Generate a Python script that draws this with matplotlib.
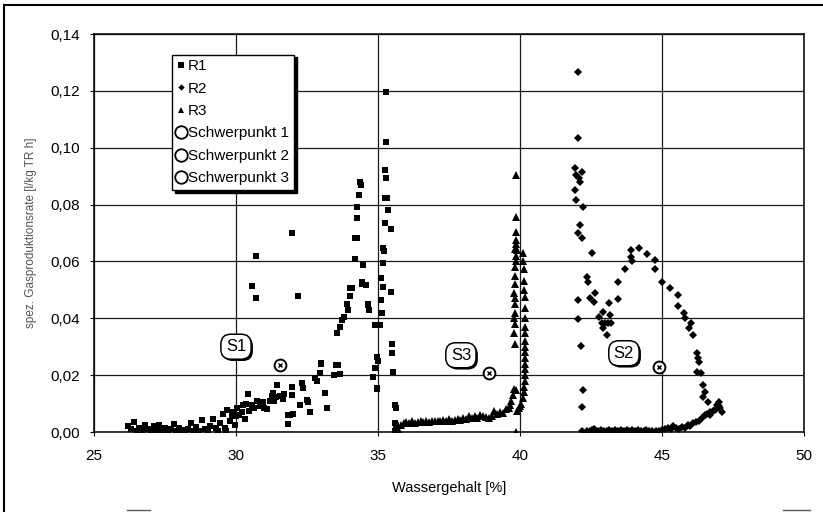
import matplotlib
matplotlib.use("Agg")
import matplotlib.pyplot as plt
from matplotlib.lines import Line2D
from matplotlib.ticker import FuncFormatter
import matplotlib.patheffects as pe

plt.rcParams['font.family'] = ['Liberation Sans', 'DejaVu Sans']

# ---------------- data ----------------
r1_x = [26.2, 26.3, 26.4, 26.5, 26.6, 26.7, 26.8, 26.9, 27.0, 27.1, 27.2, 27.3, 27.4, 27.5,
        27.6, 27.7, 27.8, 27.9, 28.0, 28.1, 28.2, 28.3, 28.4, 28.5, 28.6, 28.7, 28.8, 28.9,
        29.0, 29.1, 29.2, 29.3, 29.35, 29.45, 29.55, 29.6, 29.65, 29.7, 29.8, 29.85, 29.9,
        29.95, 30.0, 30.05, 30.1, 30.2, 30.25, 30.3, 30.35, 30.42, 30.45, 30.55, 30.65,
        30.75, 30.85, 30.95, 31.0, 31.1, 31.2, 31.25, 31.31, 31.35, 31.4,
        30.55, 30.7, 30.7, 32.17, 31.96,
        31.43, 31.55, 31.65, 31.7, 31.84, 31.83, 31.9, 31.96, 31.96, 32.0, 32.25, 32.31,
        32.35, 32.49, 32.55, 32.6, 32.78, 32.85, 33.0, 33.01, 32.95, 33.13, 33.2, 33.45,
        33.52, 33.6, 33.65, 33.54, 33.65, 33.72, 33.8, 33.9, 33.95, 34.0, 34.01, 34.07,
        34.19, 34.25, 34.19, 34.25, 34.27, 34.34, 34.37, 34.4, 34.43, 34.48, 34.42, 34.58,
        34.66, 34.7, 34.65, 34.82, 34.81, 34.89, 34.89, 34.95, 34.95, 34.98, 35.0, 35.07,
        35.09, 35.12, 35.14, 35.18, 35.19, 35.19, 35.2, 35.25, 35.25, 35.26, 35.28, 35.28,
        35.28, 35.32, 35.36, 35.46, 35.46, 35.48, 35.5, 35.53, 35.6, 35.62, 35.6, 35.62,
        35.6, 35.63]
r1_y = [0.0022, 0.001, 0.0035, 0.0005, 0.0015, 0.0002, 0.0025, 0.001, 0.0003, 0.002, 0.0008,
        0.0025, 0.0004, 0.0015, 0.0002, 0.001, 0.0028, 0.0005, 0.0015, 0.0003, 0.0008, 0.0012,
        0.003, 0.0005, 0.0018, 0.0002, 0.0042, 0.001, 0.0006, 0.0022, 0.0045, 0.0015, 0.0003,
        0.003, 0.0065, 0.0015, 0.0002, 0.0078, 0.004, 0.0055, 0.007, 0.0025, 0.0055, 0.0085,
        0.006, 0.007, 0.0095, 0.0045, 0.010, 0.0134, 0.0075, 0.0095, 0.0085, 0.011, 0.009,
        0.0105, 0.0085, 0.0082, 0.011, 0.0125, 0.0136, 0.011, 0.0122,
        0.0515, 0.062, 0.047, 0.048, 0.0699,
        0.0165, 0.0125, 0.0115, 0.0135, 0.006, 0.0028, 0.006, 0.016, 0.013, 0.0065, 0.0095,
        0.0171, 0.0154, 0.0113, 0.0107, 0.0071, 0.0189, 0.018, 0.024, 0.0241, 0.0206, 0.0136,
        0.0083, 0.020, 0.0235, 0.0236, 0.0205, 0.0347, 0.037, 0.0394, 0.0405, 0.045, 0.043,
        0.048, 0.0506, 0.0506, 0.0683, 0.0683, 0.061, 0.0793, 0.0752, 0.0834, 0.088, 0.087,
        0.052, 0.0587, 0.0529, 0.0517, 0.045, 0.043, 0.0447, 0.0195, 0.0195, 0.0224, 0.0376,
        0.0153, 0.0155, 0.0265, 0.025, 0.0376, 0.0464, 0.054, 0.0417, 0.051, 0.0593, 0.0646,
        0.0635, 0.0735, 0.0823, 0.092, 0.0893, 0.102, 0.1197, 0.0823, 0.078, 0.0714, 0.0494,
        0.031, 0.0277, 0.021, 0.0095, 0.0085, 0.003, 0.0015, 0.0005, 0.0025]

r2_x = [42.05, 42.03, 41.94, 42.2, 41.98, 42.06, 42.13, 41.94, 41.98, 42.23, 42.13, 42.05,
        42.2, 42.52, 42.35, 42.39, 42.05, 42.05, 42.14, 42.23, 42.17,
        42.46, 42.64, 42.6, 42.91, 42.79, 42.87, 43.0, 43.1, 43.2, 42.92, 43.05, 43.17,
        43.15, 43.44, 43.46, 43.7, 43.9, 43.9, 43.95, 44.2, 44.48, 44.75, 44.75, 45.01,
        45.28, 45.57, 45.57, 45.77, 45.82, 46.01, 45.95, 46.1, 46.22, 46.25, 46.3,
        46.22, 46.39, 46.45, 46.5, 46.45, 46.63, 47.02, 46.87, 47.1, 46.7,
        42.2, 42.35, 42.45, 42.55, 42.6, 42.65, 42.75, 42.85, 42.95, 43.05, 43.15, 43.25,
        43.35, 43.45, 43.55, 43.65, 43.75, 43.85, 43.95, 44.05, 44.15, 44.25, 44.35, 44.45,
        44.55, 44.65, 44.8, 44.9, 45.0, 45.1, 45.2, 45.3, 45.4, 45.5, 45.6, 45.7, 45.8, 45.9,
        46.0, 46.1, 46.2, 46.3, 46.4, 46.5, 46.6, 46.7, 46.8, 46.9, 47.0, 47.05, 46.95]
r2_y = [0.1265, 0.1035, 0.0928, 0.0916, 0.0904, 0.0892, 0.088, 0.0851, 0.0816, 0.079, 0.0728,
        0.0699, 0.0684, 0.0631, 0.0546, 0.0529, 0.0464, 0.0396, 0.0304, 0.0148, 0.0089,
        0.047, 0.0488, 0.0458, 0.0423, 0.0405, 0.0382, 0.0382, 0.0382, 0.0382, 0.0365, 0.0341,
        0.0412, 0.0455, 0.0529, 0.0468, 0.0572, 0.064, 0.0617, 0.060, 0.0648, 0.0625, 0.0605,
        0.0575, 0.0526, 0.0505, 0.0482, 0.0444, 0.0417, 0.040, 0.0382, 0.0365, 0.034, 0.0277,
        0.026, 0.0247, 0.0212, 0.0206, 0.0165, 0.0142, 0.0124, 0.0107, 0.0107, 0.0077, 0.0071,
        0.006,
        0.0005, 0.0003, 0.0005, 0.0008, 0.0012, 0.0006, 0.0004, 0.0007, 0.0005, 0.0004, 0.0006,
        0.0005, 0.0007, 0.0004, 0.0006, 0.0005, 0.0006, 0.0004, 0.0007, 0.0005, 0.0006, 0.0004,
        0.0005, 0.0006, 0.0004, 0.0003, 0.0002, 0.0005, 0.0008, 0.001, 0.0015, 0.0012, 0.002,
        0.0015, 0.0012, 0.0018, 0.0015, 0.0025, 0.002, 0.003, 0.0035, 0.004, 0.005, 0.006,
        0.0065, 0.007, 0.0075, 0.008, 0.009, 0.0085, 0.0095]

r3_x = [35.7, 35.8, 35.9, 36.0, 36.1, 36.2, 36.3, 36.4, 36.5, 36.6, 36.7, 36.8, 36.9, 37.0,
        37.1, 37.2, 37.3, 37.4, 37.5, 37.6, 37.7, 37.8, 37.9, 38.0, 38.1, 38.2, 38.3, 38.4,
        38.5, 38.6, 38.7, 38.8, 38.9, 39.0, 39.1, 39.2, 39.3, 39.4, 39.5, 39.6, 39.65, 39.7,
        39.75, 39.8, 39.85,
        39.82, 39.8, 39.82, 39.8, 39.82, 39.84, 39.82, 39.8, 39.82, 39.84, 39.82, 39.85,
        39.86, 39.84, 39.87, 39.85, 39.86, 39.87, 39.85, 39.88,
        40.17, 40.17, 40.17, 40.18, 40.17, 40.18, 40.19, 40.18, 40.19, 40.17, 40.18, 40.17,
        40.16, 40.15, 40.13, 40.1, 40.05, 40.0, 39.95, 39.9, 40.12, 40.1, 40.15, 40.15, 40.13,
        39.87]
r3_y = [0.001, 0.0025, 0.003, 0.0035, 0.003, 0.0038, 0.0032, 0.0035, 0.004, 0.0035, 0.0038,
        0.0036, 0.004, 0.0037, 0.004, 0.0038, 0.0042, 0.004, 0.0045, 0.004, 0.0042, 0.0045,
        0.0042, 0.005, 0.0045, 0.0055, 0.005, 0.0058, 0.005, 0.006, 0.0055, 0.0052, 0.0048,
        0.0058, 0.0075, 0.0065, 0.007, 0.0068, 0.008, 0.0085, 0.0095, 0.011, 0.013, 0.015,
        0.0148,
        0.031, 0.035, 0.038, 0.040, 0.042, 0.045, 0.047, 0.049, 0.052, 0.055, 0.058, 0.060,
        0.062, 0.0645, 0.066, 0.0675, 0.0705, 0.0755, 0.0904, 0.064,
        0.0476, 0.0436, 0.040, 0.037, 0.035, 0.032, 0.030, 0.028, 0.026, 0.024, 0.022, 0.020,
        0.018, 0.016, 0.014, 0.012, 0.010, 0.009, 0.0085, 0.0075, 0.063, 0.060, 0.0575, 0.053,
        0.050, 0.0]

centroid_x = [31.55, 44.89, 38.92]
centroid_y = [0.0236, 0.023, 0.0206]
centroid_names = ["Schwerpunkt 1", "Schwerpunkt 2", "Schwerpunkt 3"]
label_text = ["S1", "S2", "S3"]
label_x = [30.0, 43.66, 37.92]
label_y = [0.030, 0.0277, 0.027]

x_ticks = [25, 30, 35, 40, 45, 50]
y_ticks = [0.00, 0.02, 0.04, 0.06, 0.08, 0.10, 0.12, 0.14]

# ---------------- figure ----------------
W, H = 823, 512
fig = plt.figure(figsize=(W / 100, H / 100), dpi=100)
ax = fig.add_axes([94 / W, (H - 432) / H, 710 / W, 398 / H])

ax.plot(r1_x, r1_y, 's', ms=4.8, color='black', mew=0, zorder=3)
ax.plot(r2_x, r2_y, 'D', ms=4.2, color='black', mew=0, zorder=3)
ax.plot(r3_x, r3_y, '^', ms=5.4, color='black', mew=0, zorder=3)

for cx, cy in zip(centroid_x, centroid_y):
    ax.plot([cx], [cy], 'o', ms=8.5, mfc='white', mec='black', mew=1.4, zorder=4)
    ax.plot([cx], [cy], 'x', ms=3.5, color='black', mew=1.0, zorder=5)

for t, lx, ly in zip(label_text, label_x, label_y):
    txt = ax.text(lx, ly, t, fontsize=12, ha='center', va='center', zorder=6,
                  bbox=dict(boxstyle='round,pad=0.3,rounding_size=0.6', fc='white',
                            ec='black', lw=1.1))
    txt.get_bbox_patch().set_path_effects([
        pe.SimplePatchShadow(offset=(1.3, -1.3), shadow_rgbFace='black', alpha=1.0),
        pe.Normal()])

ax.set_xlim(25, 50)
ax.set_ylim(0, 0.14)
ax.set_xticks(x_ticks)
ax.set_yticks(y_ticks)
ax.xaxis.set_major_formatter(FuncFormatter(lambda v, p: f"{v:.0f}"))
ax.yaxis.set_major_formatter(FuncFormatter(lambda v, p: f"{v:.2f}".replace('.', ',')))
ax.tick_params(axis='both', direction='out', length=3, width=0.8, labelsize=11,
               colors='black')
ax.tick_params(axis='y', pad=7)
ax.tick_params(axis='x', pad=9)
ax.grid(True, color='#1a1a1a', lw=0.9)
ax.set_axisbelow(True)
for s in ax.spines.values():
    s.set_linewidth(1.1)
    s.set_color('black')

ax.set_xlabel("Wassergehalt [%]", fontsize=10.5, labelpad=13)
fig.text(31 / W, 1 - 233 / H, "spez. Gasproduktionsrate [l/kg TR h]", rotation=90,
         ha='center', va='center', fontsize=8.5, color='#555555')

handles = [
    Line2D([], [], ls='none', marker='s', ms=3.8, color='black', mew=0),
    Line2D([], [], ls='none', marker='D', ms=3.2, color='black', mew=0),
    Line2D([], [], ls='none', marker='^', ms=4.0, color='black', mew=0),
    Line2D([], [], ls='none', marker='o', ms=9, mfc='none', mec='black', mew=1.3),
    Line2D([], [], ls='none', marker='o', ms=9, mfc='none', mec='black', mew=1.3),
    Line2D([], [], ls='none', marker='o', ms=9, mfc='none', mec='black', mew=1.3),
]
names = ["R1", "R2", "R3"] + centroid_names
leg = ax.legend(handles, names, loc='upper left', bbox_to_anchor=(0.110, 0.948),
                fontsize=11, frameon=True, fancybox=False,
                shadow={'color': 'black', 'alpha': 1.0, 'ox': 2, 'oy': -2},
                handlelength=0.6, handletextpad=0.15, labelspacing=0.55,
                borderpad=0.3, borderaxespad=0)
leg.get_frame().set_edgecolor('black')
leg.get_frame().set_linewidth(1.0)
leg.get_frame().set_alpha(1.0)
leg.set_zorder(10)

# outer scanned frame
fig.add_artist(Line2D([4 / W, 4 / W], [0, 1 - 5 / H], color='black', lw=1.5,
                      transform=fig.transFigure))
fig.add_artist(Line2D([4 / W, 1], [1 - 5 / H, 1 - 5 / H], color='black', lw=1.5,
                      transform=fig.transFigure))
fig.add_artist(Line2D([127 / W, 150 / W], [1 - 510 / H, 1 - 510 / H], color='#555555',
                      lw=1.0, transform=fig.transFigure))
fig.add_artist(Line2D([783 / W, 810 / W], [1 - 510 / H, 1 - 510 / H], color='#555555',
                      lw=1.0, transform=fig.transFigure))

fig.savefig("out.png", dpi=100)
